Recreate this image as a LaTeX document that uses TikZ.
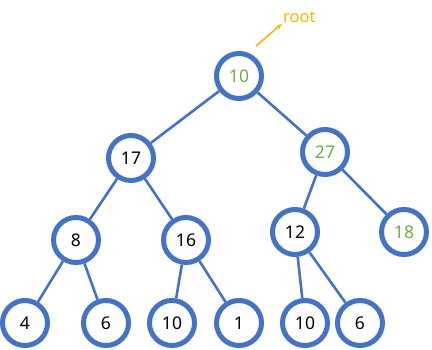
\documentclass[tikz,border=0pt]{standalone}
\usepackage{fontspec}
\setmainfont{Noto Sans}
\usepackage{xcolor}
\usetikzlibrary{arrows.meta}
\definecolor{ringblue}{HTML}{4472C4}
\definecolor{movedgreen}{HTML}{70AD47}
\definecolor{rootgold}{HTML}{F5B800}

\begin{document}
\begin{tikzpicture}[x=1pt, y=-1pt,
  key/.style={circle, draw=ringblue, line width=5pt, fill=white, minimum size=45pt, inner sep=0pt, font=\fontsize{17.5}{17.5}\selectfont},
  moved/.style={key, text=movedgreen},
  edge/.style={draw=ringblue, line width=2.6pt},
  pointer/.style={-{Stealth[length=2.2mm]}, draw=rootgold, line width=1.6pt}
]
\useasboundingbox (0,0) rectangle (432,349);
% heap levels
\node[moved] (n1) at (239,76) {10};
\node[key] (n2) at (131,158) {17};
\node[moved] (n3) at (325,152) {27};
\node[key] (n4) at (76,240) {8};
\node[key] (n5) at (186,240) {16};
\node[key] (n6) at (295,232) {12};
\node[moved] (n7) at (404,232) {18};
\node[key] (n8) at (25,323) {4};
\node[key] (n9) at (106,323) {6};
\node[key] (n10) at (172,323) {10};
\node[key] (n11) at (239,323) {1};
\node[key] (n12) at (305,323) {10};
\node[key] (n13) at (360,323) {6};
\foreach \a/\b in {n1/n2,n1/n3,n2/n4,n2/n5,n3/n6,n3/n7,n4/n8,n4/n9,n5/n10,n5/n11,n6/n12,n6/n13}
  \draw[edge] (\a) -- (\b);
% root marker
\coordinate (tail) at (256,46);
\node[text=rootgold, font=\fontsize{16.5}{16.5}\selectfont, anchor=west, inner sep=1pt] (rootlbl) at (282,17) {root};
\draw[pointer] (tail) -- (rootlbl.south west);
\end{tikzpicture}
\end{document}
